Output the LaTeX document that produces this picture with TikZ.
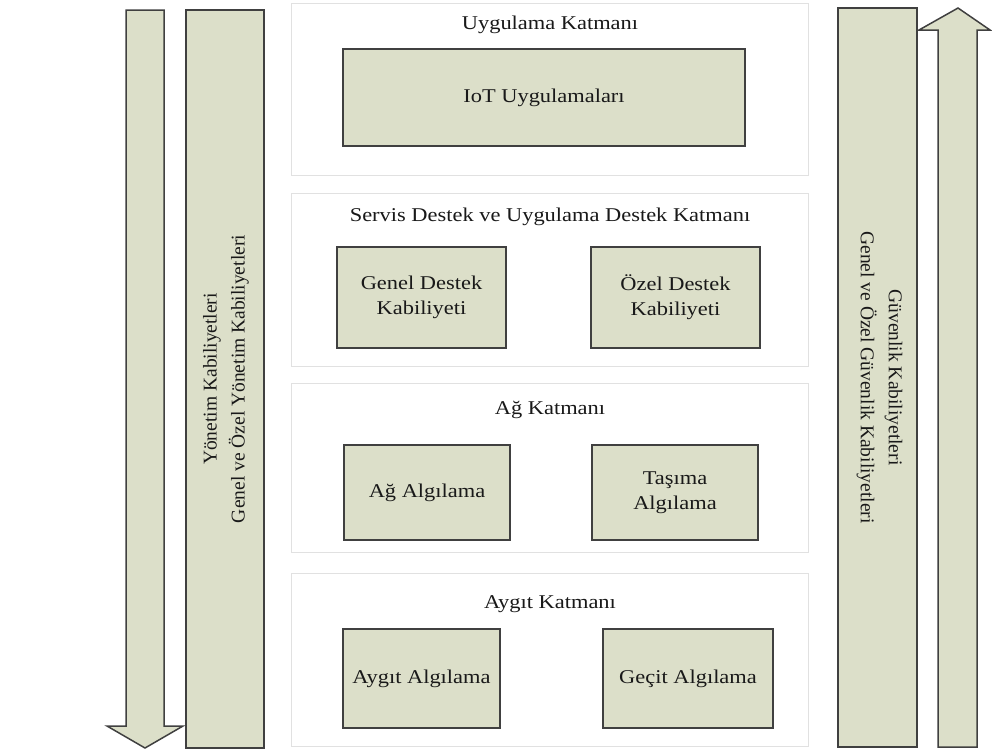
\documentclass[tikz,border=0pt]{standalone}
\usepackage{fontspec}
\setmainfont{Liberation Serif}
\definecolor{boxfill}{RGB}{220,223,201}
\definecolor{boxline}{RGB}{64,64,64}
\definecolor{panelline}{RGB}{225,225,225}
% horizontal labels are set slightly wide
\newcommand{\wide}[1]{\scalebox{1.15}[1]{#1}}
\tikzset{
  x=1pt, y=-1pt,
  txt/.style={font=\fontsize{19.5}{25}\selectfont, text=black!90},
  capbox/.style={draw=boxline, line width=1.8pt, fill=boxfill, inner sep=0pt,
                 txt, align=center},
  panel/.style={draw=panelline, line width=0.9pt, fill=white, inner sep=0pt},
  bigarrow/.style={draw=boxline, line width=1.5pt, fill=boxfill, line join=miter},
  sidetext/.style={align=center, text=black!90, font=\fontsize{19.5}{28}\selectfont},
}
\newcommand{\boxat}[6]{% name, x1, y1, x2, y2, text
  \node[capbox, minimum width={#4-#2}, minimum height={#5-#3}]
    (#1) at ({(#2+#4)/2},{(#3+#5)/2}) {#6};}
\newcommand{\panelat}[5]{% name, x1, y1, x2, y2
  \node[panel, minimum width={#4-#2}, minimum height={#5-#3}]
    (#1) at ({(#2+#4)/2},{(#3+#5)/2}) {};}
\begin{document}
\begin{tikzpicture}
\useasboundingbox (0,0) rectangle (992,753);

% layer panels
\panelat{pApp}{291}{3}{808}{175}
\panelat{pSrv}{291}{193}{808}{366}
\panelat{pNet}{291}{383}{808}{552}
\panelat{pDev}{291}{573}{808}{746}

% layer titles
\node[txt] (tApp) at (550,25) {\wide{Uygulama Katmanı}};
\node[txt] (tSrv) at (550,217) {\wide{Servis Destek ve Uygulama Destek Katmanı}};
\node[txt] (tNet) at (550,410) {\wide{Ağ Katmanı}};
\node[txt] (tDev) at (550,604) {\wide{Aygıt Katmanı}};

% capability boxes
\boxat{iot}{343}{49}{745}{146}{\wide{IoT Uygulamaları}}
\boxat{gen}{337}{247}{506}{348}{\wide{Genel Destek}\\\wide{Kabiliyeti}}
\boxat{ozel}{591}{247}{760}{348}{\wide{Özel Destek}\\\wide{Kabiliyeti}}
\boxat{agal}{344}{445}{510}{540}{\wide{Ağ Algılama}}
\boxat{tas}{592}{445}{758}{540}{\wide{Taşıma}\\\wide{Algılama}}
\boxat{ayg}{343}{629}{500}{728}{\wide{Aygıt Algılama}}
\boxat{gec}{603}{629}{773}{728}{\wide{Geçit Algılama}}

% side capability columns
\boxat{mgmt}{186}{10}{264}{748}{}
\boxat{sec}{838}{8}{917}{747}{}
\node[sidetext, rotate=90] (mgmtT) at ([xshift=1pt]mgmt.center)
  {Yönetim Kabiliyetleri\\Genel ve Özel Yönetim Kabiliyetleri};
\node[sidetext, rotate=-90] (secT) at ([xshift=2pt]sec.center)
  {Güvenlik Kabiliyetleri\\Genel ve Özel Güvenlik Kabiliyetleri};

% block arrows
\draw[bigarrow] (126,10) -- (164,10) -- (164,726) -- (183,726) -- (145,748)
  -- (107,726) -- (126,726) -- cycle;
\draw[bigarrow] (938,747) -- (977,747) -- (977,30) -- (990,30) -- (958,8)
  -- (919,30) -- (938,30) -- cycle;
\end{tikzpicture}
\end{document}
